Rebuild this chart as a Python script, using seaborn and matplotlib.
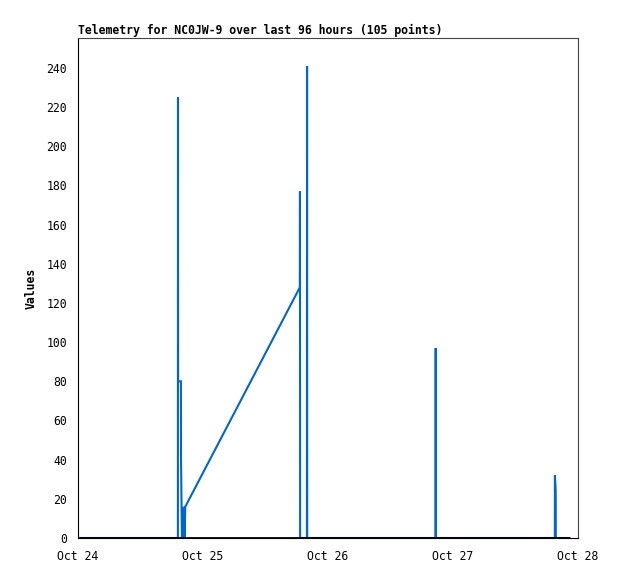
import matplotlib
matplotlib.use("Agg")
import matplotlib.pyplot as plt
import matplotlib.dates as mdates
import seaborn as sns
import pandas as pd

# hours after Oct 24 00:00 and telemetry value
hours = [0.2, 3.5, 7.8, 12.1, 16.4, 19.18, 19.20, 19.22, 19.76, 19.78, 19.95,
         20.30, 20.45, 20.60, 42.60, 42.62, 42.65, 43.95, 43.98, 44.01,
         50.0, 56.0, 62.0, 68.66, 68.68, 68.70, 74.0, 80.0, 86.0,
         91.55, 91.57, 91.72, 91.74, 94.40]
values = [0, 0, 0, 0, 0, 0, 225, 80, 80, 41, 0,
          16, 0, 16, 128, 177, 0, 0, 241, 0,
          0, 0, 0, 0, 97, 0, 0, 0, 0,
          0, 32, 24, 0, 0]

y_ticks = list(range(0, 241, 20))
x_days = ["2023-10-24", "2023-10-25", "2023-10-26", "2023-10-27", "2023-10-28"]

base = pd.Timestamp("2023-10-24")
df = pd.DataFrame({
    "time": base + pd.to_timedelta(hours, unit="h"),
    "value": values,
})

sns.set_style("white")
plt.rcParams["font.family"] = ["DejaVu Sans Mono"]
plt.rcParams["font.size"] = 8.3
plt.rcParams["text.color"] = "black"
plt.rcParams["axes.labelcolor"] = "black"

fig = plt.figure(figsize=(6.18, 5.79), dpi=100)
ax = fig.add_axes([78 / 618, 1 - 538 / 579, 500 / 618, 500 / 579])

sns.lineplot(data=df, x="time", y="value", ax=ax, color="#0066cc",
             linewidth=1.5, estimator=None, sort=False, zorder=2,
             solid_joinstyle="miter", solid_capstyle="butt")
# zero baseline over the data span
ax.plot([df["time"].iloc[0], df["time"].iloc[-1]], [0, 0],
        color="black", linewidth=2.0, solid_capstyle="butt", zorder=3)

ax.set_xlim(pd.Timestamp(x_days[0]), pd.Timestamp(x_days[-1]))
ax.set_ylim(0, 255.3)
ax.set_yticks(y_ticks)
ax.set_xticks([pd.Timestamp(d) for d in x_days])
ax.xaxis.set_major_formatter(mdates.DateFormatter("%b %d"))

ax.tick_params(axis="both", direction="out", length=6, width=0.8,
               color="black", labelsize=8.3, labelcolor="black")
ax.tick_params(axis="x", pad=3)
ax.tick_params(axis="y", pad=2)

for side in ["left", "bottom"]:
    ax.spines[side].set_color("black")
    ax.spines[side].set_linewidth(0.8)
for side in ["top", "right"]:
    ax.spines[side].set_color("#444444")
    ax.spines[side].set_linewidth(0.8)

ax.set_xlabel("")
ax.set_ylabel("Values", fontweight="bold", labelpad=6)
ax.set_title("Telemetry for NC0JW-9 over last 96 hours (105 points)",
             loc="left", fontweight="bold", fontsize=8.3, pad=3,
             color="black")

fig.savefig("out.png", dpi=100)
